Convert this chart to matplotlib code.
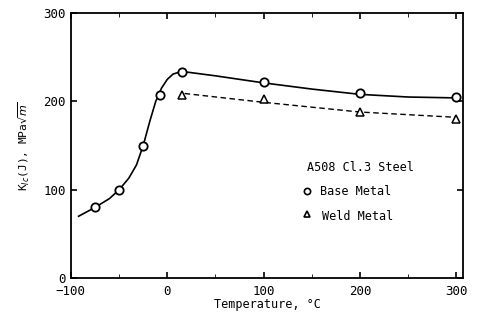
import matplotlib.pyplot as plt
from matplotlib.ticker import MultipleLocator

# measured points
base_T = [-75, -50, -25, -8, 15, 100, 200, 300]
base_K = [80, 100, 150, 207, 233, 222, 209, 205]
weld_T = [15, 100, 200, 300]
weld_K = [207, 203, 188, 180]

# hand drawn trend lines
base_line_T = [-92, -75, -60, -50, -40, -32, -25, -18, -12, -6, 0, 6, 15, 50, 100, 150, 200, 250, 300]
base_line_K = [70, 80, 90, 100, 113, 128, 150, 178, 200, 215, 225, 231, 234, 229, 221, 214, 208, 205, 204]
weld_line_T = [18, 100, 200, 300]
weld_line_K = [209, 199, 188, 182]

plt.rcParams['font.family'] = ['DejaVu Sans Mono']
fig = plt.figure(figsize=(4.79, 3.2), dpi=100)
ax = fig.add_axes([0.148, 0.131, 0.819, 0.828])

ax.plot(base_line_T, base_line_K, color='black', lw=1.2)
ax.plot(weld_line_T, weld_line_K, color='black', lw=1.0, ls=(0, (4, 2.5)))
ax.plot(base_T, base_K, 'o', ms=6, mfc='white', mec='black', mew=1.3)
ax.plot(weld_T, weld_K, '^', ms=6, mfc='white', mec='black', mew=1.1)

ax.set_xlim(-100, 307)
ax.set_ylim(0, 300)
ax.xaxis.set_major_locator(MultipleLocator(100))
ax.xaxis.set_minor_locator(MultipleLocator(50))
ax.yaxis.set_major_locator(MultipleLocator(100))
ax.tick_params(which='both', direction='in', top=True, right=True, labelsize=9)
ax.tick_params(which='major', length=4, width=1.2)
ax.tick_params(which='minor', length=3)
ax.tick_params(axis='x', pad=5)
for s in ax.spines.values():
    s.set_linewidth(1.3)

ax.set_xlabel('Temperature, \u00b0C', fontsize=8.5, labelpad=0)
ax.set_ylabel(r'K$_{Ic}$(J), MPa$\sqrt{m}$', fontsize=8, labelpad=8)

ax.text(145, 125, 'A508 Cl.3 Steel', fontsize=8.5, va='center')
ax.plot([145], [99], 'o', ms=4.5, mfc='white', mec='black', mew=1.2)
ax.text(158, 98, 'Base Metal', fontsize=8.5, va='center')
ax.plot([145], [73], '^', ms=4.5, mfc='white', mec='black', mew=1.2)
ax.text(161, 70, 'Weld Metal', fontsize=8.5, va='center')

fig.savefig('out.png', dpi=100)
